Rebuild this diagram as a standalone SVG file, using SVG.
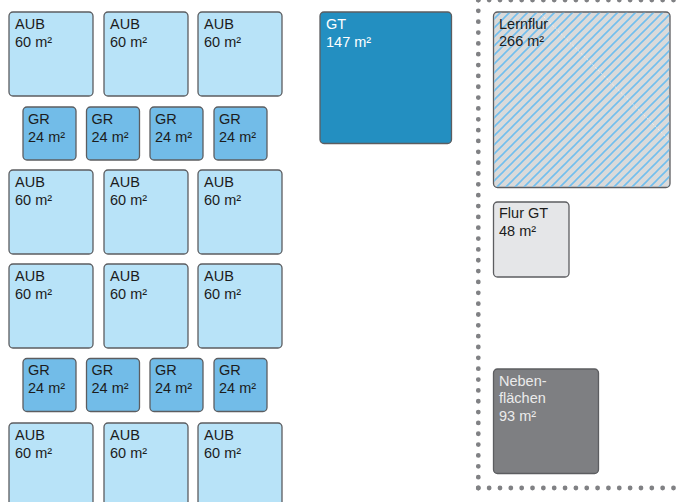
<svg xmlns="http://www.w3.org/2000/svg" width="680" height="502" viewBox="0 0 680 502">
<style>
.box{stroke:#5c5d60;stroke-width:1.3}
.aub{fill:#b8e3f8}
.gr{fill:#72bce8}
.gt{fill:#238fc1}
.lf{fill:#dadada}
.fgt{fill:#e5e6e8}
.nf{fill:#7e7f82}
text{font-family:"Liberation Sans",Arial,sans-serif;font-size:14.5px;fill:#1c1c1c}
.w{fill:#ffffff}
.lw{fill:#ebebeb}
.dots{stroke:#808184;stroke-width:4.8;stroke-linecap:round;stroke-dasharray:0 10.844;fill:none}
</style>
<defs>
<pattern id="hatch" patternUnits="userSpaceOnUse" width="9" height="9">
<path d="M0,9 L9,0 M-2.25,2.25 L2.25,-2.25 M6.75,11.25 L11.25,6.75" stroke="#72bfee" stroke-width="1.6"/>
</pattern>
</defs>
<g id="connectors">
<path class="dots" d="M478.3,0 V488"/>
<path class="dots" d="M478.3,0 H685"/>
<path class="dots" d="M478.3,488 H685"/>
</g>
<g id="aub1"><rect class="box aub" x="9" y="12" width="84" height="84" rx="4"/><text x="15" y="29">AUB</text><text x="15" y="46.5">60 m²</text></g>
<g id="aub2"><rect class="box aub" x="104" y="12" width="84" height="84" rx="4"/><text x="110" y="29">AUB</text><text x="110" y="46.5">60 m²</text></g>
<g id="aub3"><rect class="box aub" x="198" y="12" width="84" height="84" rx="4"/><text x="204" y="29">AUB</text><text x="204" y="46.5">60 m²</text></g>
<g id="gr1"><rect class="box gr" x="23" y="107" width="53" height="53" rx="4"/><text x="28" y="123.5">GR</text><text x="28" y="141.5">24 m²</text></g>
<g id="gr2"><rect class="box gr" x="86.5" y="107" width="53" height="53" rx="4"/><text x="91.5" y="123.5">GR</text><text x="91.5" y="141.5">24 m²</text></g>
<g id="gr3"><rect class="box gr" x="150" y="107" width="53" height="53" rx="4"/><text x="155" y="123.5">GR</text><text x="155" y="141.5">24 m²</text></g>
<g id="gr4"><rect class="box gr" x="214" y="107" width="53" height="53" rx="4"/><text x="219" y="123.5">GR</text><text x="219" y="141.5">24 m²</text></g>
<g id="aub4"><rect class="box aub" x="9" y="170" width="84" height="84" rx="4"/><text x="15" y="187">AUB</text><text x="15" y="204.5">60 m²</text></g>
<g id="aub5"><rect class="box aub" x="104" y="170" width="84" height="84" rx="4"/><text x="110" y="187">AUB</text><text x="110" y="204.5">60 m²</text></g>
<g id="aub6"><rect class="box aub" x="198" y="170" width="84" height="84" rx="4"/><text x="204" y="187">AUB</text><text x="204" y="204.5">60 m²</text></g>
<g id="aub7"><rect class="box aub" x="9" y="264" width="84" height="84" rx="4"/><text x="15" y="281">AUB</text><text x="15" y="298.5">60 m²</text></g>
<g id="aub8"><rect class="box aub" x="104" y="264" width="84" height="84" rx="4"/><text x="110" y="281">AUB</text><text x="110" y="298.5">60 m²</text></g>
<g id="aub9"><rect class="box aub" x="198" y="264" width="84" height="84" rx="4"/><text x="204" y="281">AUB</text><text x="204" y="298.5">60 m²</text></g>
<g id="gr5"><rect class="box gr" x="23" y="358.5" width="53" height="53" rx="4"/><text x="28" y="375">GR</text><text x="28" y="393">24 m²</text></g>
<g id="gr6"><rect class="box gr" x="86.5" y="358.5" width="53" height="53" rx="4"/><text x="91.5" y="375">GR</text><text x="91.5" y="393">24 m²</text></g>
<g id="gr7"><rect class="box gr" x="150" y="358.5" width="53" height="53" rx="4"/><text x="155" y="375">GR</text><text x="155" y="393">24 m²</text></g>
<g id="gr8"><rect class="box gr" x="214" y="358.5" width="53" height="53" rx="4"/><text x="219" y="375">GR</text><text x="219" y="393">24 m²</text></g>
<g id="aub10"><rect class="box aub" x="9" y="423" width="84" height="84" rx="4"/><text x="15" y="440">AUB</text><text x="15" y="457.5">60 m²</text></g>
<g id="aub11"><rect class="box aub" x="104" y="423" width="84" height="84" rx="4"/><text x="110" y="440">AUB</text><text x="110" y="457.5">60 m²</text></g>
<g id="aub12"><rect class="box aub" x="198" y="423" width="84" height="84" rx="4"/><text x="204" y="440">AUB</text><text x="204" y="457.5">60 m²</text></g>
<g id="gt"><rect class="box gt" x="320" y="12" width="131.5" height="131.5" rx="4"/><text class="w" x="326" y="29">GT</text><text class="w" x="326" y="46.5">147 m²</text></g>
<g id="lernflur"><rect class="box lf" x="493.5" y="12" width="176.5" height="175.5" rx="4"/><rect x="494.2" y="12.7" width="175.1" height="174.1" rx="3.5" fill="url(#hatch)"/><path d="M541,14 L669.3,140" stroke="#ffffff" stroke-width="0.8" stroke-dasharray="2 2" opacity="0.8"/><text x="499" y="28.5">Lernflur</text><text x="499" y="45.5">266 m²</text></g>
<g id="flurgt"><rect class="box fgt" x="493.5" y="202" width="75.5" height="75" rx="4"/><text x="499" y="218">Flur GT</text><text x="499" y="235.5">48 m²</text></g>
<g id="nebenflaechen"><rect class="box nf" x="493.5" y="369" width="105" height="104.5" rx="4"/><text class="lw" x="499" y="385.5">Neben-</text><text class="lw" x="499" y="403">flächen</text><text class="lw" x="499" y="420.5">93 m²</text></g>
</svg>
